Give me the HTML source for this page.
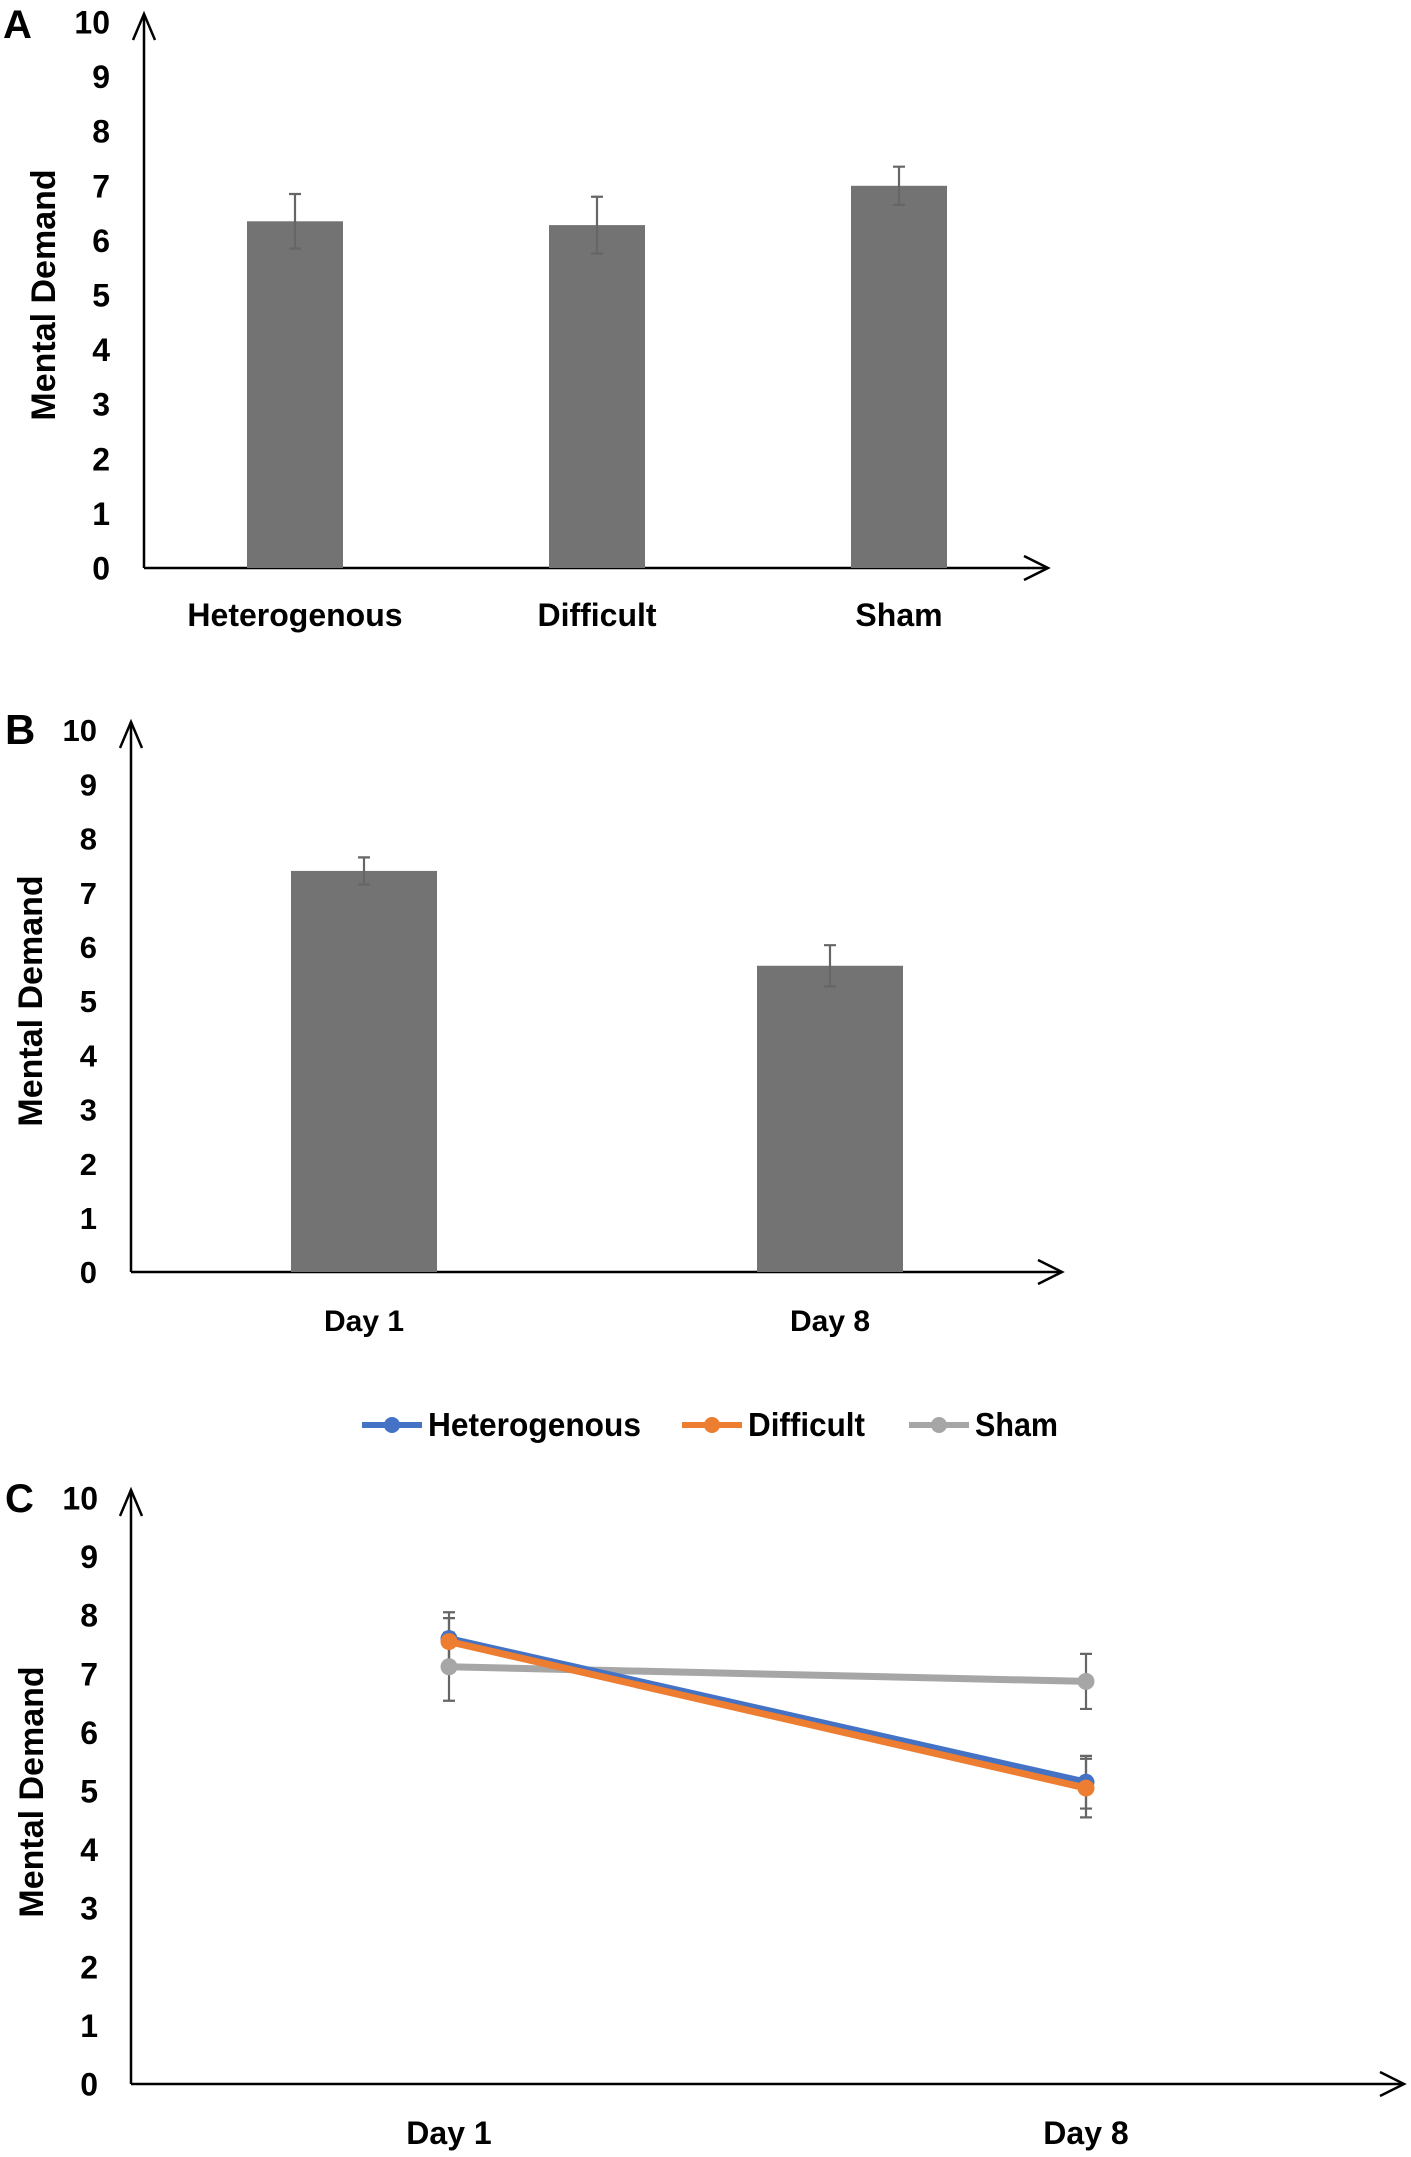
<!DOCTYPE html>
<html><head><meta charset="utf-8">
<style>
html,body{margin:0;padding:0;background:#fff;}
svg{display:block;}
text{font-family:"Liberation Sans Narrow","Liberation Sans",sans-serif;font-weight:bold;fill:#000;}
.wide{font-family:"Liberation Sans",sans-serif;}
</style></head>
<body>
<svg id="fig" width="1411" height="2157" viewBox="0 0 1411 2157" xmlns="http://www.w3.org/2000/svg"></svg>
<script>
// Panel A data
const aCategories = ["Heterogenous","Difficult","Sham"];
const aValues = [6.35, 6.28, 7.0];
const aErrors = [0.5, 0.52, 0.35];
// Panel B data
const bCategories = ["Day 1","Day 8"];
const bValues = [7.4, 5.65];
const bErrors = [0.25, 0.38];
// Panel C data
const cCategories = ["Day 1","Day 8"];
const cSeriesNames = ["Heterogenous","Difficult","Sham"];
const cHet = [7.6, 5.15];
const cDiff = [7.55, 5.05];
const cSham = [7.12, 6.87];
const cHetErr = [0.45, 0.45];
const cDiffErr = [0.4, 0.5];
const cShamErr = [0.58, 0.47];
const yTicks = ["0","1","2","3","4","5","6","7","8","9","10"];

const NS = "http://www.w3.org/2000/svg";
const svg = document.getElementById('fig');
function mk(tag, attrs, parent){
  const e = document.createElementNS(NS, tag);
  for (const k in attrs) e.setAttribute(k, attrs[k]);
  (parent||svg).appendChild(e);
  return e;
}
function txt(s, attrs, parent){ const t = mk('text', attrs, parent); t.textContent = s; return t; }

function axes(g, x0, y0, yTop, xEnd){
  const la = mk('line',{x1:x0,y1:y0,x2:x0,y2:yTop-8,stroke:'#000','stroke-width':2.5},g);
  
  
  mk('polyline',{points:`${x0-11},${yTop+18} ${x0},${yTop-8} ${x0+11},${yTop+18}`,fill:'none',stroke:'#000','stroke-width':2.5},g);
  const lx = mk('line',{x1:x0,y1:y0,x2:xEnd,y2:y0,stroke:'#000','stroke-width':2.5},g);
  
  
  mk('polyline',{points:`${xEnd-24},${y0-12} ${xEnd},${y0} ${xEnd-24},${y0+12}`,fill:'none',stroke:'#000','stroke-width':2.5},g);
}

function panel(cfg){
  const g = mk('g',{});
  
  
  const y = v => cfg.y0 - v*cfg.unit;
  axes(g, cfg.x0, cfg.y0, y(10), cfg.xEnd);
  yTicks.forEach((t,i)=>{
    const tl = txt(t,{x:cfg.tickX,y:y(+t)+cfg.tickFs*0.36,'font-size':cfg.tickFs,'text-anchor':'end',class:cfg.tickCls||''},g);
    
    
  });
  const tt = txt('Mental Demand',{x:0,y:0,'font-size':cfg.titleFs,'text-anchor':'middle',class:'wide',transform:`translate(${cfg.titleX},${cfg.titleY}) rotate(-90)`},g);
  
  
  const pl = txt(cfg.letter,{x:cfg.letterX,y:cfg.letterY,'font-size':cfg.letterFs,class:cfg.letterCls||''},g);
  
  
  return {g,y};
}

function errBar(g, x, yv, ye, yfn, cap){
  const p = mk('path',{d:`M${x},${yfn(yv+ye)}V${yfn(yv-ye)}M${x-cap},${yfn(yv+ye)}h${2*cap}M${x-cap},${yfn(yv-ye)}h${2*cap}`,stroke:'#666','stroke-width':2.2,fill:'none'},g);
  
  
}

// Panel A
(function(){
  const cfg={name:'panel-a',x0:144,y0:568,unit:54.6,xEnd:1048,tickX:110,tickFs:32,titleX:55,titleY:295,titleFs:34,letter:'A',letterX:3,letterY:38,letterFs:40};
  const {g,y}=panel(cfg);
  const xs = i => 295 + i*302;
  aCategories.forEach((c,i)=>{
    const r = mk('rect',{x:xs(i)-48,y:y(aValues[i]),width:96,height:y(0)-y(aValues[i]),fill:'#737373'},g);
    
    
    errBar(g,xs(i),aValues[i],aErrors[i],y,6);
    const l = txt(c,{x:xs(i),y:626,'font-size':32,'text-anchor':'middle'},g);
    
    
  });
})();

// Panel B
(function(){
  const cfg={name:'panel-b',x0:131,y0:1272,unit:54.2,xEnd:1062,tickX:97,tickFs:31,tickCls:'wide',titleX:42,titleY:1001,titleFs:34,letter:'B',letterX:5,letterY:744,letterFs:42,letterCls:'wide'};
  const {g,y}=panel(cfg);
  const xs = i => 364 + i*466;
  bCategories.forEach((c,i)=>{
    const r = mk('rect',{x:xs(i)-73,y:y(bValues[i]),width:146,height:y(0)-y(bValues[i]),fill:'#737373'},g);
    
    
    errBar(g,xs(i),bValues[i],bErrors[i],y,6);
    const l = txt(c,{x:xs(i),y:1331,'font-size':30,'text-anchor':'middle',class:'wide'},g);
    
    
  });
})();

// Panel C
(function(){
  const cfg={name:'panel-c',x0:131,y0:2084,unit:58.6,xEnd:1404,tickX:98,tickFs:32,titleX:43,titleY:1792,titleFs:34,letter:'C',letterX:5,letterY:1512,letterFs:40};
  const {g,y}=panel(cfg);
  const xs = i => 449 + i*637;
  const series=[[cSham,cShamErr,'#a6a6a6'],[cHet,cHetErr,'#4472c4'],[cDiff,cDiffErr,'#ed7d31']];
  const names=['sham','heterogenous','difficult'];
  series.forEach(([vals,errs],k)=>vals.forEach((v,i)=>errBar(g,xs(i),v,errs[i],y,6)));
  series.forEach(([vals,errs,col],k)=>{
    const pts = vals.map((v,i)=>`${xs(i)},${y(v)}`).join(' ');
    const pl = mk('polyline',{points:pts,fill:'none',stroke:col,'stroke-width':7},g);
    
    
    vals.forEach((v,i)=>{
      const c = mk('circle',{cx:xs(i),cy:y(v),r:8.5,fill:col},g);
      
      
    });
  });
  cCategories.forEach((c,i)=>{
    const l = txt(c,{x:xs(i),y:2144,'font-size':32,'text-anchor':'middle'},g);
    
    
  });
  const leg = mk('g',{},svg);
  
  
  const legItems=[[362,'#4472c4',cSeriesNames[0],213],[682,'#ed7d31',cSeriesNames[1],117],[909,'#a6a6a6',cSeriesNames[2],83]];
  legItems.forEach(([x,col,name,w])=>{
    const e = mk('g',{},leg);
    
    
    mk('line',{x1:x,y1:1425,x2:x+60,y2:1425,stroke:col,'stroke-width':6},e);
    mk('circle',{cx:x+30,cy:1425,r:8,fill:col},e);
    txt(name,{x:x+66,y:1436,'font-size':33,textLength:w,lengthAdjust:'spacingAndGlyphs'},e);
  });
})();
</script>
</body></html>
